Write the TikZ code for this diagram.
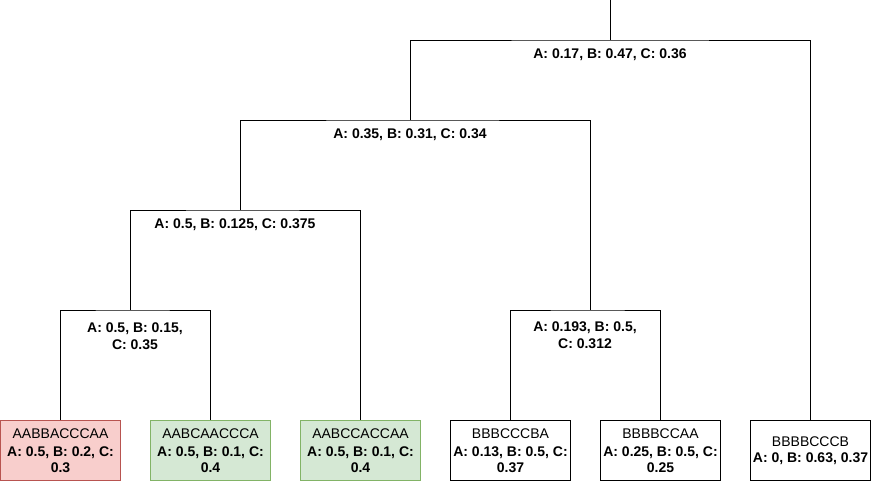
\documentclass[tikz,border=0pt]{standalone}
\usepackage{fontspec}
\setmainfont{Liberation Sans}
\definecolor{redfill}{HTML}{F8CECC}
\definecolor{redline}{HTML}{B85450}
\definecolor{greenfill}{HTML}{D5E8D4}
\definecolor{greenline}{HTML}{82B366}
\begin{document}
\begin{tikzpicture}[x=1pt,y=-1pt,line width=1pt,
  leaf/.style={draw,minimum width=120pt,minimum height=60pt,inner sep=0pt,align=center,anchor=north west,font=\fontsize{14}{15.5}\selectfont},
  redleaf/.style={leaf,fill=redfill,draw=redline},
  greenleaf/.style={leaf,fill=greenfill,draw=greenline},
  lbl/.style={align=center,inner sep=0pt,font=\fontsize{14}{16.5}\selectfont\bfseries},
  edge/.style={draw=black,line width=1pt}]
\useasboundingbox (0,0) rectangle (871,482);
% leaves
\node[redleaf] (l1) at (0,420) {AABBACCCAA\\[3pt]\textbf{A: 0.5, B: 0.2, C:}\\\textbf{0.3}};
\node[greenleaf] (l2) at (150,420) {AABCAACCCA\\[3pt]\textbf{A: 0.5, B: 0.1, C:}\\\textbf{0.4}};
\node[greenleaf] (l3) at (300,420) {AABCCACCAA\\[3pt]\textbf{A: 0.5, B: 0.1, C:}\\\textbf{0.4}};
\node[leaf] (l4) at (450,420) {BBBCCCBA\\[3pt]\textbf{A: 0.13, B: 0.5, C:}\\\textbf{0.37}};
\node[leaf] (l5) at (600,420) {BBBBCCAA\\[3pt]\textbf{A: 0.25, B: 0.5, C:}\\\textbf{0.25}};
\node[leaf] (l6) at (750,420) {BBBBCCCB\\[1pt]\textbf{A: 0, B: 0.63, 0.37}};
% bracket stems
\coordinate (top) at (610,0);
\coordinate (b1) at (610,40);
\coordinate (b2) at (410,120);
\coordinate (b3) at (240,210);
\coordinate (b4) at (130,310);
\coordinate (b5) at (590,310);
% labels
\node[lbl] (n1) at (610,55) {A: 0.17, B: 0.47, C: 0.36};
\node[lbl] (n2) at (410,135) {A: 0.35, B: 0.31, C: 0.34};
\node[lbl] (n3) at (235,225) {A: 0.5, B: 0.125, C: 0.375};
\node[lbl] (n4) at (135,336) {A: 0.5, B: 0.15,\\C: 0.35};
\node[lbl] (n5) at (585,335) {A: 0.193, B: 0.5,\\C: 0.312};
% connectors
\draw[edge] (top) -- (b1);
\draw[edge] (b2) |- (b1) -| (l6.north);
\draw[edge] (b3) |- (b2) -| (b5);
\draw[edge] (b4) |- (b3) -| (l3.north);
\draw[edge] (l1.north) |- (b4) -| (l2.north);
\draw[edge] (l4.north) |- (b5) -| (l5.north);
\end{tikzpicture}
\end{document}
